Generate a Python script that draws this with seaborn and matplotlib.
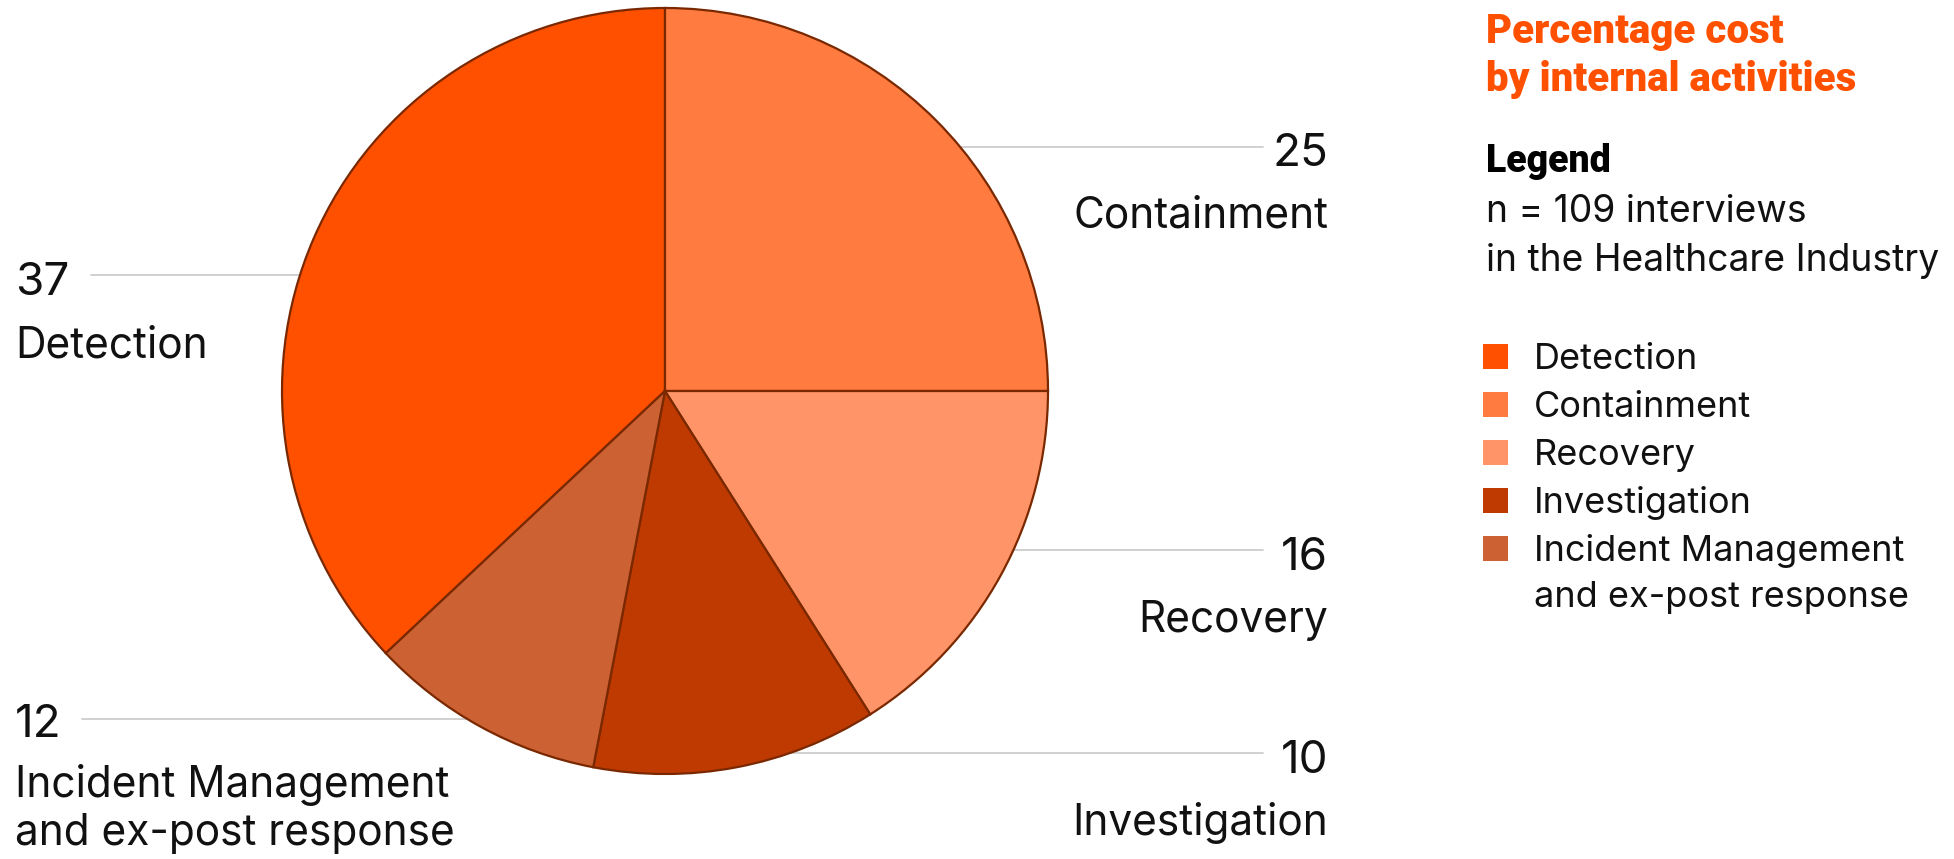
import matplotlib
matplotlib.use("Agg")
import matplotlib.pyplot as plt
import seaborn as sns
from matplotlib.lines import Line2D
from matplotlib.patches import Rectangle

# datos del grafico
categorias = ['Detection', 'Containment', 'Recovery', 'Investigation',
              'Incident Management\nand ex-post response']
valores = [37, 25, 16, 12, 10]          # tamano de cada porcion
etiquetas_num = ['37', '25', '16', '10', '12']   # numeros escritos junto a las porciones
colores = ['#FF5000', '#FF7B40', '#FF9468', '#BF3A00', '#CC6133']
titulo = 'Percentage cost\nby internal activities'
nota = ['n = 109 interviews', 'in the Healthcare Industry']

sns.set_theme(style='white')
plt.rcParams['font.family'] = ['Inter', 'DejaVu Sans']

W, H = 1954, 859
def fx(x):
    return x / W
def fy(y):
    return 1 - y / H

fig = plt.figure(figsize=(W / 100, H / 100), dpi=100)
fig.patch.set_facecolor('white')

# pie: centro (665, 391), radio 383 px
cx, cy, r = 665, 391, 383
lim = 1.02
lado = 2 * r * lim
ax = fig.add_axes([fx(cx - lado / 2), fy(cy + lado / 2), lado / W, lado / H])
ax.pie(valores, colors=colores, startangle=90 + valores[0] * 3.6, counterclock=False,
       radius=1, wedgeprops=dict(edgecolor='#7A2800', linewidth=1.6))
ax.set_xlim(-lim, lim)
ax.set_ylim(-lim, lim)
ax.set_aspect('equal')
ax.axis('off')

gris = '#C8C8C8'
negro = '#111111'
num_size = 33
lab_size = 30.5

# etiquetas derecha: (indice, y linea, base numero, base texto)
derecha = [
    (1, 147, 166, 227),
    (2, 550, 570, 632),
    (3, 753, 773, 835),
]
for i, ly, bn, bt in derecha:
    fig.add_artist(Line2D([fx(1263), fx(cx)], [fy(ly), fy(ly)], color=gris, lw=1.2, zorder=-1))
    fig.text(fx(1328), fy(bn), etiquetas_num[i], ha='right', va='baseline',
             fontsize=num_size, color=negro)
    fig.text(fx(1328), fy(bt), categorias[i], ha='right', va='baseline',
             fontsize=lab_size, color=negro)

# etiquetas izquierda
fig.add_artist(Line2D([fx(91), fx(cx)], [fy(275), fy(275)], color=gris, lw=1.2, zorder=-1))
fig.text(fx(15), fy(295), etiquetas_num[0], ha='left', va='baseline', fontsize=num_size, color=negro)
fig.text(fx(15), fy(357), categorias[0], ha='left', va='baseline', fontsize=lab_size, color=negro)

fig.add_artist(Line2D([fx(82), fx(cx)], [fy(719), fy(719)], color=gris, lw=1.2, zorder=-1))
fig.text(fx(15), fy(737), etiquetas_num[4], ha='left', va='baseline', fontsize=num_size, color=negro)
l1, l2 = categorias[4].split('\n')
fig.text(fx(15), fy(797), l1, ha='left', va='baseline', fontsize=lab_size, color=negro)
fig.text(fx(15), fy(845), l2, ha='left', va='baseline', fontsize=lab_size, color=negro)

# panel derecho
x0 = 1486
t1, t2 = titulo.split('\n')
fig.text(fx(x0), fy(43), t1, ha='left', va='baseline', fontsize=29,
         fontweight='heavy', family=['Roboto', 'DejaVu Sans'], color='#FF5000')
fig.text(fx(x0), fy(91), t2, ha='left', va='baseline', fontsize=29,
         fontweight='heavy', family=['Roboto', 'DejaVu Sans'], color='#FF5000')
fig.text(fx(x0), fy(172), 'Legend', ha='left', va='baseline', fontsize=27,
         fontweight='heavy', family=['Roboto', 'DejaVu Sans'], color='black')
fig.text(fx(x0), fy(222), nota[0], ha='left', va='baseline', fontsize=26.8, color=negro)
fig.text(fx(x0), fy(271), nota[1], ha='left', va='baseline', fontsize=26.8, color=negro)

# leyenda manual
bases = [369, 417, 465, 513, 561]
for cat, col, b in zip(categorias, colores, bases):
    fig.add_artist(Rectangle((fx(1483), fy(b)), 25 / W, 25 / H, transform=fig.transFigure,
                             facecolor=col, edgecolor='none'))
    lineas = cat.split('\n')
    for k, txt in enumerate(lineas):
        fig.text(fx(1534), fy(b + 46 * k), txt, ha='left', va='baseline',
                 fontsize=26, color=negro)

fig.savefig('out.png', dpi=100, facecolor='white')
plt.close(fig)
